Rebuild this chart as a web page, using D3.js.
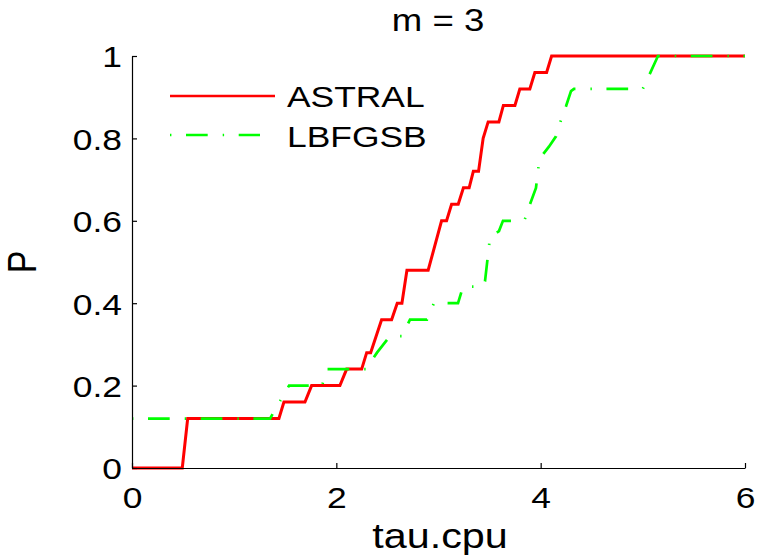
<!DOCTYPE html>
<html>
<head>
<meta charset="utf-8">
<script src="https://cdn.jsdelivr.net/npm/d3@7"></script>
<style>
  body { margin: 0; background: #fff; }
  svg { display: block; font-family: "Liberation Sans", Arial, sans-serif; }
</style>
</head>
<body>
<svg id="chart" width="761" height="556"></svg>
<script>
// performance profile, m = 3 (tau, P)
var astral = [
  [0, 0], [0.492, 0], [0.545, 0.12], [1.438, 0.12], [1.487, 0.16], [1.693, 0.16],
  [1.758, 0.20], [2.035, 0.20], [2.101, 0.24], [2.248, 0.24], [2.297, 0.28], [2.336, 0.28],
  [2.443, 0.36], [2.541, 0.36], [2.596, 0.40], [2.642, 0.40], [2.691, 0.48], [2.899, 0.48],
  [3.030, 0.60], [3.079, 0.60], [3.128, 0.64], [3.193, 0.64], [3.244, 0.68], [3.300, 0.68],
  [3.341, 0.72], [3.392, 0.72], [3.437, 0.80], [3.486, 0.84], [3.591, 0.84], [3.635, 0.88],
  [3.748, 0.88], [3.796, 0.92], [3.894, 0.92], [3.943, 0.96], [4.058, 0.96], [4.107, 1.0],
  [6, 1.0]
];
var lbfgsb = [
  [0, 0.12], [1.351, 0.12], [1.537, 0.20], [1.860, 0.20], [1.909, 0.24], [2.290, 0.24],
  [2.398, 0.28], [2.525, 0.32], [2.643, 0.32], [2.721, 0.36], [2.887, 0.36], [2.955, 0.40],
  [3.191, 0.40], [3.240, 0.44], [3.426, 0.44], [3.455, 0.453], [3.504, 0.56], [3.592, 0.575],
  [3.631, 0.60], [3.837, 0.60], [3.856, 0.61], [3.895, 0.64], [3.954, 0.68], [3.988, 0.75],
  [4.028, 0.763], [4.081, 0.78], [4.150, 0.805], [4.189, 0.837], [4.248, 0.878], [4.297, 0.915],
  [4.326, 0.92], [4.999, 0.92], [5.050, 0.947], [5.148, 1.0], [6, 1.0]
];
var seriesNames = ["ASTRAL", "LBFGSB"];
var xTicks = [0, 2, 4, 6];
var yTicks = [0, 0.2, 0.4, 0.6, 0.8, 1];
var title = "m = 3";
var xLabel = "tau.cpu";
var yLabel = "P";

var svg = d3.select("#chart");
var sx = 1.18; // text is stretched sideways in the original
var fs = 30;

var xScale = d3.scaleLinear().domain([0, 6]).range([132, 745]);
var yScale = d3.scaleLinear().domain([0, 1]).range([468, 56]);

var line = d3.line()
  .x(function(d) { return xScale(d[0]); })
  .y(function(d) { return yScale(d[1]); });

var dash = "1.4,14.6,21.7,15";
var fmt = function(d) { return d3.format("")(d); };

// curves, red under green
svg.append("path").datum(astral)
  .attr("d", line).attr("fill", "none")
  .attr("stroke", "#ff0000").attr("stroke-width", 3);
svg.append("path").datum(lbfgsb)
  .attr("d", line).attr("fill", "none")
  .attr("stroke", "#00ff00").attr("stroke-width", 2.7)
  .attr("stroke-dasharray", dash);

// axes (box off, ticks pointing in)
var gx = svg.append("g").attr("transform", "translate(0,468)")
  .call(d3.axisBottom(xScale).tickValues(xTicks).tickSizeInner(-5).tickSizeOuter(0).tickPadding(0)
    .tickFormat(fmt));
var gy = svg.append("g").attr("transform", "translate(132,0)")
  .call(d3.axisLeft(yScale).tickValues(yTicks).tickSizeInner(-5).tickSizeOuter(0).tickPadding(0)
    .tickFormat(fmt));

[gx, gy].forEach(function(g) {
  g.select(".domain").attr("stroke", "#000").attr("stroke-width", 1.2);
  g.selectAll(".tick line").attr("stroke", "#000").attr("stroke-width", 1.2);
  g.selectAll(".tick text").attr("fill", "#000").attr("font-size", fs)
    .attr("font-family", "'Liberation Sans', Arial, sans-serif");
});
gx.selectAll(".tick text").attr("y", 0).attr("dy", null)
  .attr("transform", "translate(0,40) scale(" + sx + ",1)");
gy.selectAll(".tick text").attr("x", 0).attr("dy", "0.36em")
  .attr("transform", "translate(-10,0) scale(" + sx + ",1)");

// titles
svg.append("text")
  .attr("transform", "translate(438,31) scale(" + sx + ",1)")
  .attr("text-anchor", "middle").attr("font-size", 31).text(title);
svg.append("text")
  .attr("transform", "translate(440,548) scale(" + sx + ",1)")
  .attr("text-anchor", "middle").attr("font-size", 35).text(xLabel);
svg.append("text")
  .attr("transform", "translate(36,262) scale(" + sx + ",1) rotate(-90)")
  .attr("text-anchor", "middle").attr("font-size", 34).text(yLabel);

// legend
var legend = svg.append("g");
legend.append("line").attr("x1", 170).attr("x2", 275).attr("y1", 96).attr("y2", 96)
  .attr("stroke", "#ff0000").attr("stroke-width", 2.5);
legend.append("line").attr("x1", 170).attr("x2", 260).attr("y1", 135).attr("y2", 135)
  .attr("stroke", "#00ff00").attr("stroke-width", 2.5).attr("stroke-dasharray", dash);
legend.selectAll("text").data(seriesNames).enter().append("text")
  .attr("transform", function(d, i) { return "translate(287," + (107 + i * 39.5) + ") scale(" + sx + ",1)"; })
  .attr("font-size", fs).text(function(d) { return d; });
</script>
</body>
</html>
